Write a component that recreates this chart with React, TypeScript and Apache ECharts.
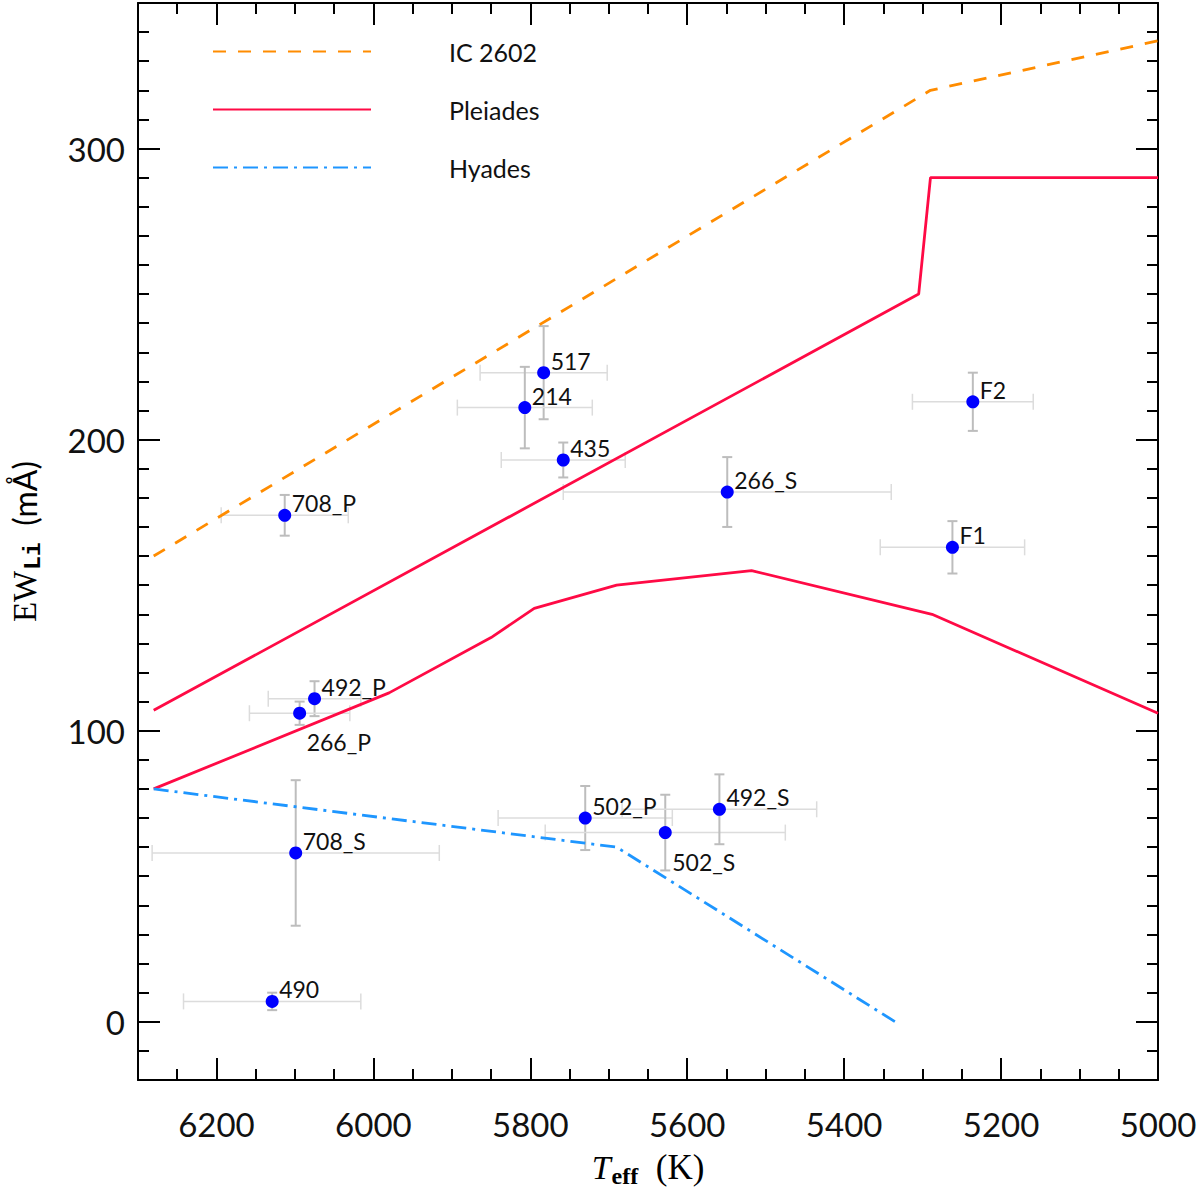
import { useEffect, useRef } from 'react';
import * as echarts from 'echarts';

// star data: Teff (K), EW(Li) (mA) and their errors
const starNames = ['708_P', '492_P', '266_P', '517', '214', '435', '266_S', 'F2', 'F1', '708_S', '490', '502_P', '502_S', '492_S'];
const starTeff = [6113, 6075, 6094, 5783, 5807, 5758, 5549, 5236, 5262, 6099, 6129, 5730, 5628, 5559];
const starTeffErr = [81, 59, 64, 81, 86, 79, 209, 77, 92, 183, 113, 111, 153, 124];
const starEW = [174, 111, 106, 223, 211, 193, 182, 213, 163, 58, 7, 70, 65, 73];
const starEWErr = [7, 6, 4, 16, 14, 6, 12, 10, 9, 25, 3, 11, 13, 12];
const labelBelow = ['266_P', '502_S'];

// cluster upper envelopes
const ic2602Teff = [6280, 5290, 5000];
const ic2602EW = [160, 320, 337];
const pleiadesUpTeff = [6280, 5305, 5290, 5000];
const pleiadesUpEW = [107, 250, 290, 290];
const pleiadesLowTeff = [6280, 5980, 5850, 5795, 5690, 5518, 5288, 5000];
const pleiadesLowEW = [80, 113, 132, 142, 150, 155, 140, 106];
const hyadesTeff = [6280, 5690, 5335];
const hyadesEW = [80, 60, 0];

// ticks
const xMajorTicks = [5000, 5200, 5400, 5600, 5800, 6000, 6200];
const yMajorTicks = [0, 100, 200, 300];
const xMinorTicks: number[] = [];
for (let v = 5050; v < 6300; v += 50) xMinorTicks.push(v);
const yMinorTicks: number[] = [];
for (let v = -10; v < 350; v += 10) yMinorTicks.push(v);

const FONT = 'Lato, "Open Sans", sans-serif';
const SERIF = '"Liberation Serif", "DejaVu Serif", serif';

const zip = (a: number[], b: number[]) => a.map((v, i) => [v, b[i]]);

const makeAxis = (pos: string, major: boolean, ticks: number[], labels: boolean, extra: any) => ({
  type: 'value',
  position: pos,
  inverse: extra.inverse,
  min: extra.min,
  max: extra.max,
  axisLine: { show: major, onZero: false, lineStyle: { color: '#000', width: 2 } },
  axisTick: {
    show: true,
    inside: true,
    length: major ? 22 : 11,
    customValues: ticks,
    lineStyle: { color: '#000', width: 2 },
  },
  axisLabel: labels
    ? {
        show: true,
        customValues: ticks,
        formatter: (v: number) => String(v),
        fontSize: 33,
        color: '#111',
        fontFamily: FONT,
        margin: extra.margin,
      }
    : { show: false },
  splitLine: { show: false },
  ...(extra.name ? { name: extra.name, nameLocation: 'middle', nameGap: extra.nameGap, nameTextStyle: extra.nameTextStyle } : {}),
});

const ChartComponent = () => {
  const chartDom = useRef<HTMLDivElement | null>(null);

  useEffect(() => {
    if (chartDom.current) {
      const myChart = echarts.init(chartDom.current, null, { renderer: 'svg' });
      const xr = { min: 5000, max: 6300, inverse: true, margin: 27 };
      const yr = { min: -20, max: 350, inverse: false, margin: 13 };

      const errData = starTeff.map((t, i) => [t, starEW[i], starTeffErr[i], starEWErr[i]]);
      const pointData = starTeff.map((t, i) => {
        const below = labelBelow.includes(starNames[i]);
        return {
          value: [t, starEW[i]],
          name: starNames[i],
          label: {
            position: below ? [13.5, 24] : [13.5, 6],
            verticalAlign: below ? 'top' : 'bottom',
          },
        };
      });

      const lineStyle = (color: string, type: any) => ({ color, width: 2.8, type });

      const option = {
        animation: false,
        backgroundColor: '#fff',
        grid: { left: 134, right: 42, top: 3, bottom: 104 },
        legend: {
          orient: 'vertical',
          left: 207,
          top: 34,
          itemWidth: 158,
          itemHeight: 26,
          itemGap: 33,
          selectedMode: false,
          itemStyle: { opacity: 0 },
          data: ['IC 2602', 'Pleiades', 'Hyades'],
          textStyle: { fontSize: 25, fontFamily: FONT, color: '#111', padding: [0, 0, 0, 73] },
        },
        xAxis: [
          makeAxis('bottom', true, xMajorTicks, true, {
            ...xr,
            name: '{t|T}{s|eff}{k|  (K)}',
            nameGap: 70,
            nameTextStyle: {
              rich: {
                t: { fontFamily: SERIF, fontStyle: 'italic', fontSize: 34, color: '#000', lineHeight: 34, verticalAlign: 'top' },
                s: { fontFamily: SERIF, fontWeight: 'bold', fontSize: 24, color: '#000', lineHeight: 24, padding: [14, 0, 0, 1], verticalAlign: 'top' },
                k: { fontFamily: SERIF, fontSize: 35, color: '#000', lineHeight: 34, verticalAlign: 'top' },
              },
            },
          }),
          makeAxis('bottom', false, xMinorTicks, false, xr),
          makeAxis('top', true, xMajorTicks, false, xr),
          makeAxis('top', false, xMinorTicks, false, xr),
        ],
        yAxis: [
          makeAxis('left', true, yMajorTicks, true, {
            ...yr,
            name: '{e|EW}{s|Li}{m|  (mÅ)}',
            nameGap: 98,
            nameTextStyle: {
              rich: {
                e: { fontFamily: SERIF, fontSize: 33, color: '#000', lineHeight: 32, verticalAlign: 'top' },
                s: { fontFamily: '"Liberation Mono", "DejaVu Sans Mono", monospace', fontWeight: 'bold', fontSize: 23, color: '#000', lineHeight: 23, padding: [14, 0, 0, 1], verticalAlign: 'top' },
                m: { fontFamily: FONT, fontSize: 32, color: '#000', lineHeight: 32, verticalAlign: 'top' },
              },
            },
          }),
          makeAxis('left', false, yMinorTicks, false, yr),
          makeAxis('right', true, yMajorTicks, false, yr),
          makeAxis('right', false, yMinorTicks, false, yr),
        ],
        series: [
          {
            name: 'IC 2602',
            type: 'line',
            symbol: 'none',
            color: '#FF8C00',
            lineStyle: lineStyle('#FF8C00', [13, 12]),
            data: zip(ic2602Teff, ic2602EW),
          },
          {
            name: 'Pleiades',
            type: 'line',
            symbol: 'none',
            color: '#FF0A45',
            lineStyle: lineStyle('#FF0A45', 'solid'),
            data: zip(pleiadesUpTeff, pleiadesUpEW),
          },
          {
            name: 'Pleiades',
            type: 'line',
            symbol: 'none',
            color: '#FF0A45',
            lineStyle: lineStyle('#FF0A45', 'solid'),
            data: zip(pleiadesLowTeff, pleiadesLowEW),
          },
          {
            name: 'Hyades',
            type: 'line',
            symbol: 'none',
            color: '#1E96FF',
            lineStyle: lineStyle('#1E96FF', [15, 6, 3, 6]),
            data: zip(hyadesTeff, hyadesEW),
          },
          {
            name: 'errors',
            type: 'custom',
            data: errData,
            z: 3,
            renderItem: (params: any, api: any) => {
              const x = api.value(0);
              const y = api.value(1);
              const ex = api.value(2);
              const ey = api.value(3);
              const l = api.coord([x - ex, y]);
              const r = api.coord([x + ex, y]);
              const t = api.coord([x, y + ey]);
              const b = api.coord([x, y - ey]);
              const h = { stroke: '#dcdcdc', lineWidth: 1.5 };
              const v = { stroke: '#bdbdbd', lineWidth: 2 };
              return {
                type: 'group',
                children: [
                  { type: 'line', shape: { x1: l[0], y1: l[1], x2: r[0], y2: r[1] }, style: h },
                  { type: 'line', shape: { x1: l[0], y1: l[1] - 8, x2: l[0], y2: l[1] + 8 }, style: h },
                  { type: 'line', shape: { x1: r[0], y1: r[1] - 8, x2: r[0], y2: r[1] + 8 }, style: h },
                  { type: 'line', shape: { x1: t[0], y1: t[1], x2: b[0], y2: b[1] }, style: v },
                  { type: 'line', shape: { x1: t[0] - 5, y1: t[1], x2: t[0] + 5, y2: t[1] }, style: v },
                  { type: 'line', shape: { x1: b[0] - 5, y1: b[1], x2: b[0] + 5, y2: b[1] }, style: v },
                ],
              };
            },
          },
          {
            name: 'stars',
            type: 'scatter',
            z: 4,
            symbolSize: 13,
            itemStyle: { color: '#0000FF', opacity: 1 },
            label: {
              show: true,
              formatter: '{b}',
              align: 'left',
              fontSize: 23,
              lineHeight: 23,
              fontFamily: FONT,
              color: '#111',
            },
            data: pointData,
          },
        ],
      };

      myChart.setOption(option as any);

      return () => {
        myChart.dispose();
      };
    }
  }, []);

  return (
    <div style={{ position: 'fixed', left: 0, top: 0, width: 1200, height: 1193, background: '#fff' }}>
      <div ref={chartDom} style={{ width: '100%', height: '100%' }} />
    </div>
  );
};

export default function App() {
  return <ChartComponent />;
}
